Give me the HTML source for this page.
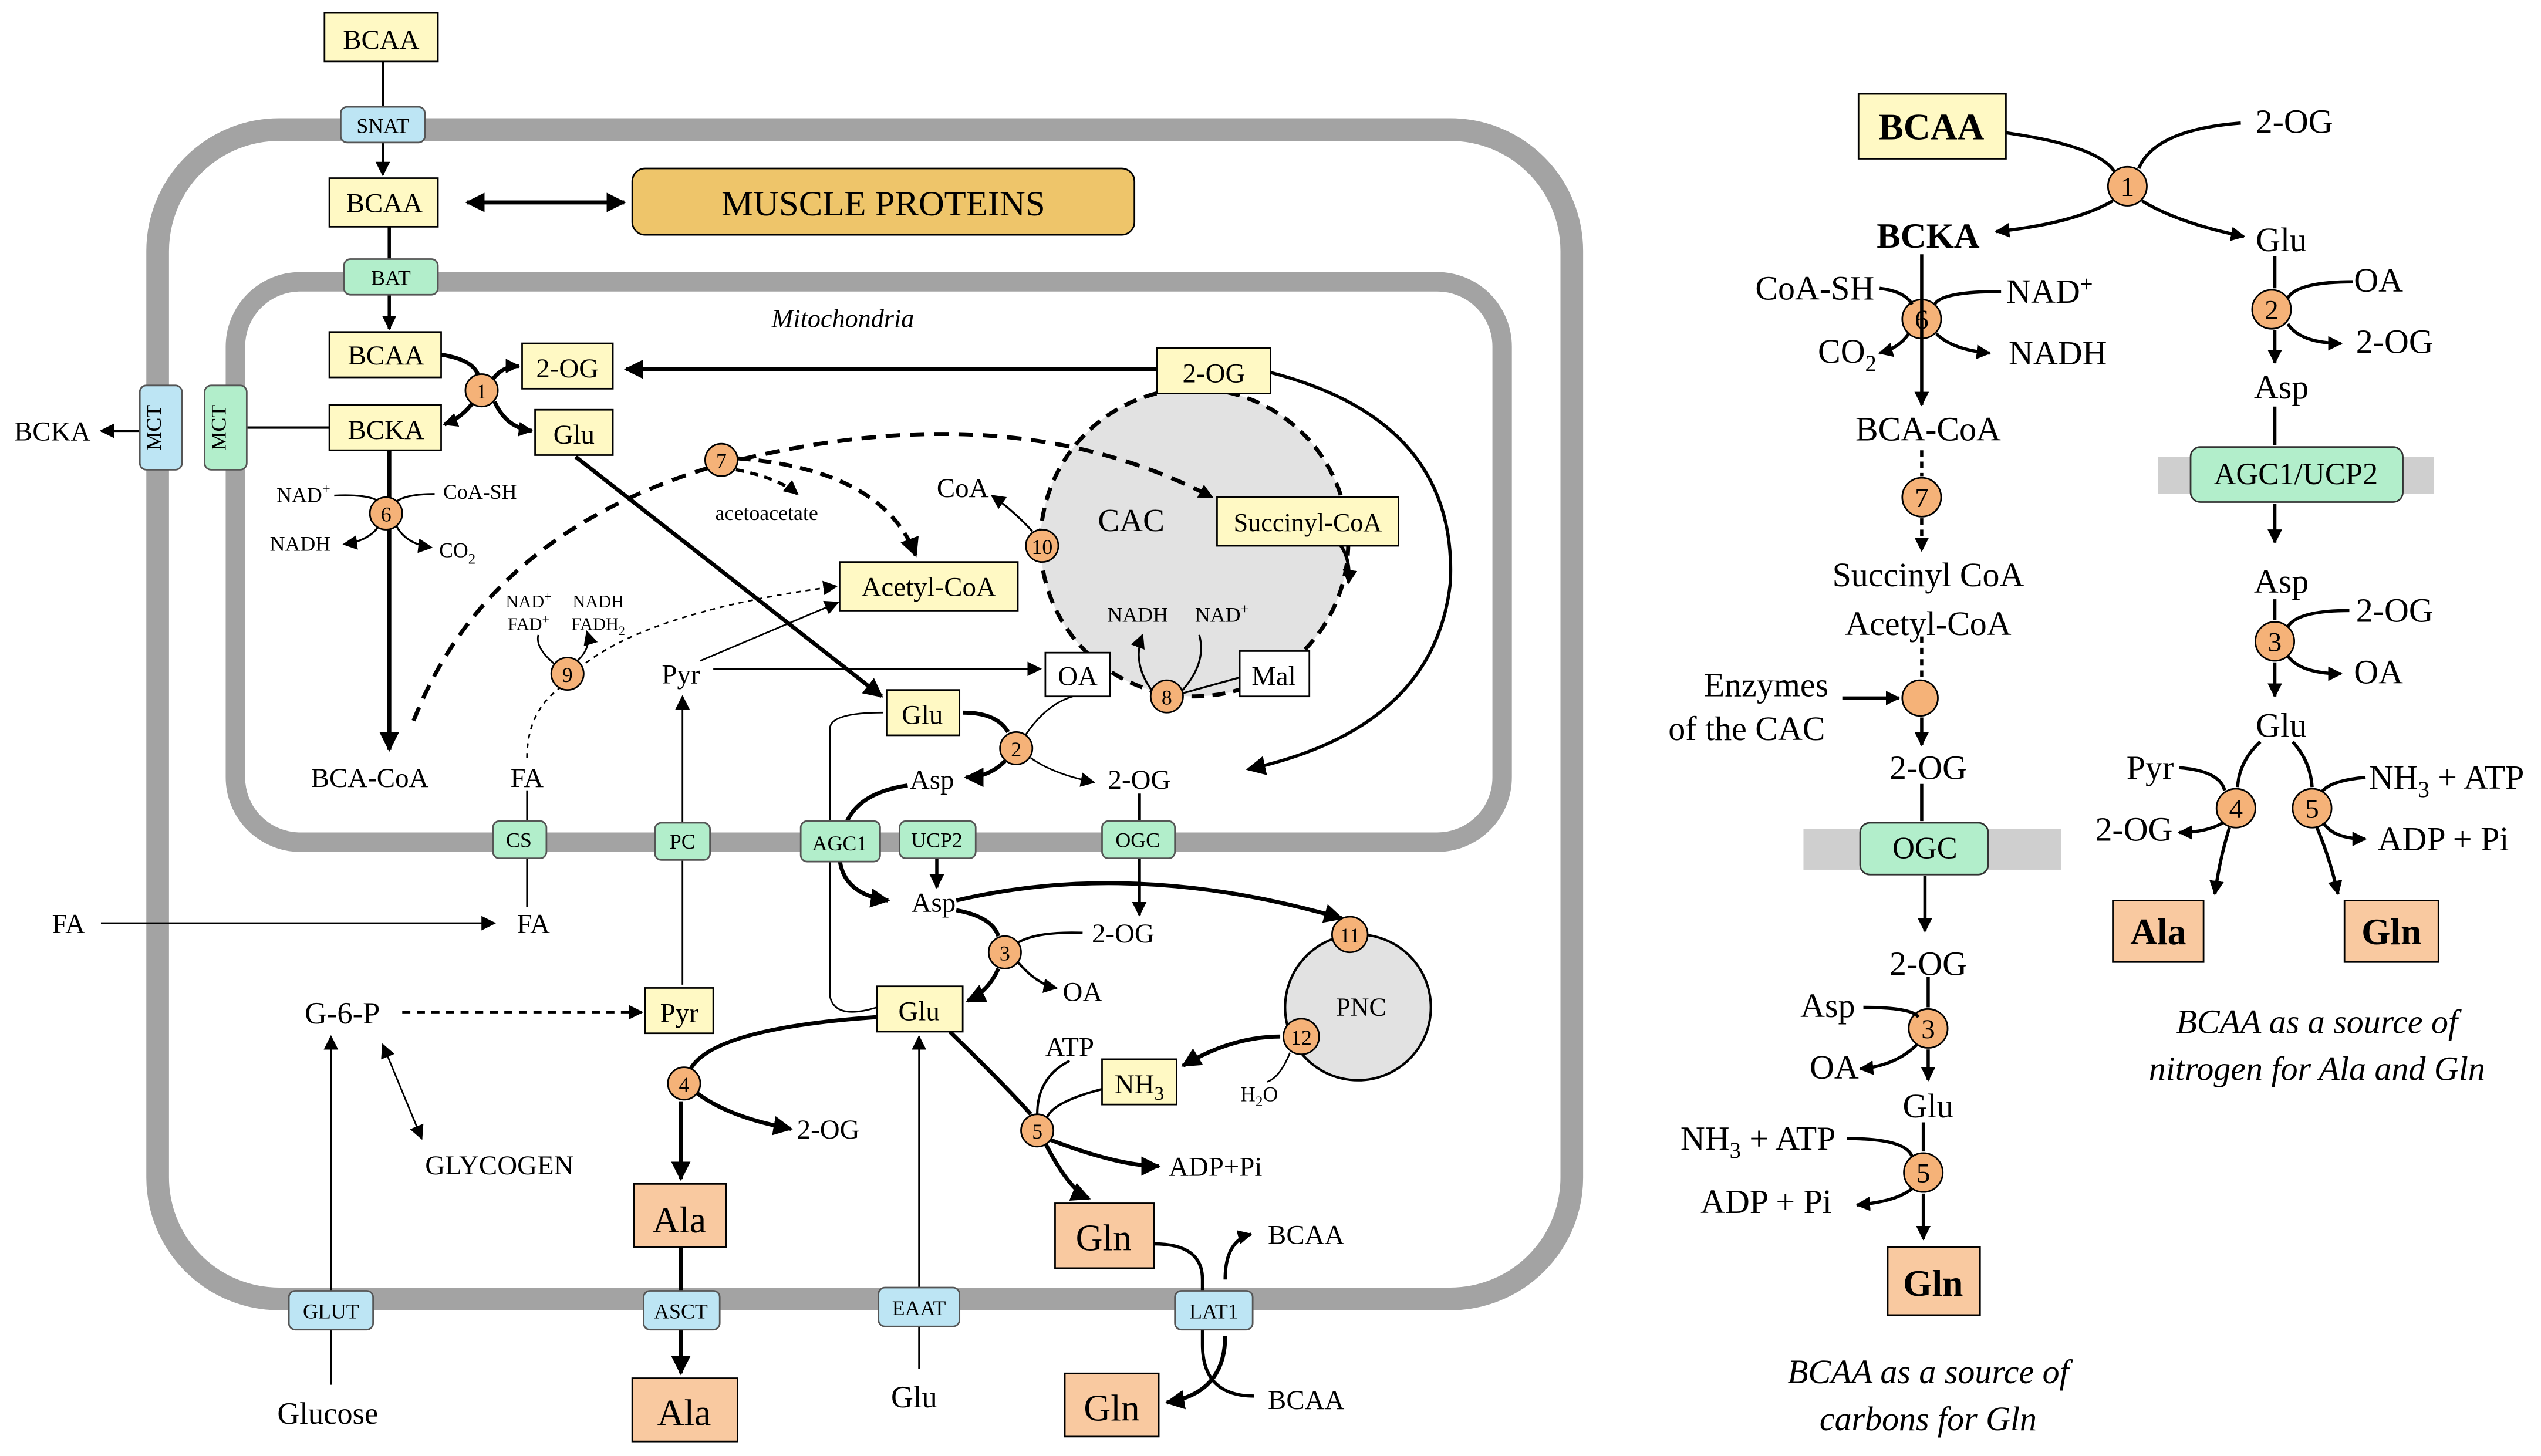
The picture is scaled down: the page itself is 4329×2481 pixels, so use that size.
<!DOCTYPE html>
<html><head><meta charset="utf-8"><style>html,body{margin:0;padding:0;background:#fff}svg{display:block}svg text{font-family:"Liberation Serif","Times New Roman",Tinos,serif}</style></head><body>
<svg width="4329" height="2481" viewBox="0 0 1568 899" xmlns="http://www.w3.org/2000/svg" style="font-family:'Liberation Serif','Times New Roman',serif">
<defs>
<marker id="a" viewBox="0 0 10 10" refX="9" refY="5" markerWidth="9" markerHeight="9" markerUnits="userSpaceOnUse" orient="auto-start-reverse"><path d="M0,0L10,5L0,10z" fill="#000"/></marker>
<marker id="s" viewBox="0 0 10 10" refX="9" refY="5" markerWidth="12" markerHeight="12" markerUnits="userSpaceOnUse" orient="auto-start-reverse"><path d="M0,0L10,5L0,10z" fill="#000"/></marker>
</defs>
<rect width="1568" height="899" fill="#fff"/>
<rect x="97" y="80" width="873" height="722" rx="75" fill="none" stroke="#a3a3a3" stroke-width="14"/>
<rect x="145" y="174" width="782" height="346" rx="40" fill="none" stroke="#a3a3a3" stroke-width="12"/>
<text x="520" y="202" font-size="16" font-style="italic" text-anchor="middle">Mitochondria</text>
<circle cx="737" cy="335" r="95" fill="#e2e2e2" stroke="#000" stroke-width="2.5" stroke-dasharray="8,5"/>
<text x="698" y="328" font-size="20" text-anchor="middle">CAC</text>
<circle cx="838" cy="622" r="45" fill="#e2e2e2" stroke="#000" stroke-width="1.5"/>
<text x="840" y="627" font-size="16" text-anchor="middle">PNC</text>
<g stroke="#000" fill="none">
<line x1="236" y1="38" x2="236" y2="108" stroke-width="1.5" marker-end="url(#a)"/>
<line x1="288" y1="125" x2="385" y2="125" stroke-width="2.5" marker-start="url(#s)" marker-end="url(#s)"/>
<line x1="240" y1="140" x2="240" y2="203" stroke-width="2" marker-end="url(#a)"/>
<path d="M272,219 Q292,222 295,232" stroke-width="2.5"/>
<path d="M292,248 Q285,258 274,262" stroke-width="2.5" marker-end="url(#a)"/>
<path d="M304,234 Q310,226 320,226" stroke-width="2.5" marker-end="url(#a)"/>
<path d="M305,248 Q312,264 328,266" stroke-width="2.5" marker-end="url(#a)"/>
<line x1="203" y1="264" x2="152" y2="264" stroke-width="1.5"/>
<line x1="86" y1="266" x2="62" y2="266" stroke-width="1.5" marker-end="url(#a)"/>
<line x1="240" y1="278" x2="240" y2="463" stroke-width="2.5" marker-end="url(#s)"/>
<path d="M206,306 Q228,305 234,310" stroke-width="1.2"/>
<path d="M268,305 Q250,305 244,310" stroke-width="1.2"/>
<path d="M234,324 Q228,334 212,336" stroke-width="1.2" marker-end="url(#a)"/>
<path d="M244,324 Q250,336 266,338" stroke-width="1.2" marker-end="url(#a)"/>
<path d="M255,445 Q300,330 440,288 Q620,240 748,307" stroke-width="2.5" stroke-dasharray="9,6" marker-end="url(#a)"/>
<path d="M454,290 Q480,295 492,305" stroke-width="2" stroke-dasharray="5,4" marker-end="url(#a)"/>
<path d="M455,283 Q545,290 565,343" stroke-width="2.5" stroke-dasharray="8,5" marker-end="url(#s)"/>
<line x1="714" y1="228" x2="386" y2="228" stroke-width="2.5" marker-end="url(#s)"/>
<path d="M784,230 Q900,260 895,360 Q885,450 770,475" stroke-width="2" marker-end="url(#s)"/>
<path d="M826,335 Q834,345 832,360" stroke-width="2" marker-end="url(#a)"/>
<path d="M637,328 Q625,315 612,306" stroke-width="1.2" marker-end="url(#a)"/>
<path d="M712,428 Q698,410 705,392" stroke-width="1.2" marker-end="url(#a)"/>
<path d="M728,428 Q745,410 740,392" stroke-width="1.2"/>
<line x1="766" y1="418" x2="730" y2="428" stroke-width="1.2"/>
<line x1="440" y1="413" x2="642" y2="413" stroke-width="1" marker-end="url(#a)"/>
<line x1="432" y1="408" x2="517" y2="372" stroke-width="1" marker-end="url(#a)"/>
<line x1="421" y1="608" x2="421" y2="430" stroke-width="1" marker-end="url(#a)"/>
<path d="M325,468 Q325,440 345,425 Q380,380 516,362" stroke-width="1" stroke-dasharray="3,3" marker-end="url(#a)"/>
<path d="M342,410 Q330,400 332,392" stroke-width="1"/>
<path d="M356,408 Q365,400 362,390" stroke-width="1" marker-end="url(#a)"/>
<line x1="355" y1="282" x2="544" y2="430" stroke-width="2.5" marker-end="url(#s)"/>
<path d="M594,440 Q615,440 622,452" stroke-width="2.5"/>
<path d="M620,470 Q610,480 596,480" stroke-width="2.5" marker-end="url(#s)"/>
<path d="M636,468 Q650,478 675,483" stroke-width="1" marker-end="url(#a)"/>
<path d="M632,455 Q645,435 662,430" stroke-width="1"/>
<path d="M560,485 Q525,490 520,515" stroke-width="2.5"/>
<path d="M518,530 Q520,552 548,556" stroke-width="2.5" marker-end="url(#s)"/>
<line x1="578" y1="528" x2="578" y2="548" stroke-width="2" marker-end="url(#a)"/>
<line x1="703" y1="490" x2="703" y2="565" stroke-width="2" marker-end="url(#a)"/>
<path d="M590,556 Q700,530 828,567" stroke-width="2.5" marker-end="url(#s)"/>
<path d="M590,562 Q612,566 616,578" stroke-width="2.5"/>
<path d="M616,598 Q610,612 597,618" stroke-width="2.5" marker-end="url(#s)"/>
<path d="M628,582 Q640,575 668,576" stroke-width="1.5"/>
<path d="M628,594 Q640,608 652,610" stroke-width="1.5" marker-end="url(#a)"/>
<path d="M790,640 Q760,640 730,658" stroke-width="2.5" marker-end="url(#s)"/>
<path d="M796,650 Q790,665 782,668" stroke-width="1"/>
<path d="M541,622 Q515,630 512,615 L512,450 Q512,440 545,440" stroke-width="1"/>
<line x1="567" y1="798" x2="567" y2="640" stroke-width="1" marker-end="url(#a)"/>
<line x1="567" y1="845" x2="567" y2="815" stroke-width="1"/>
<path d="M541,628 Q440,635 426,660" stroke-width="2.5"/>
<path d="M430,675 Q450,690 488,697" stroke-width="2.5" marker-end="url(#s)"/>
<line x1="420" y1="680" x2="420" y2="728" stroke-width="2.5" marker-end="url(#s)"/>
<line x1="420" y1="770" x2="420" y2="848" stroke-width="2.5" marker-end="url(#s)"/>
<path d="M586,637 Q620,670 636,688" stroke-width="2.5"/>
<path d="M645,706 Q660,735 672,740" stroke-width="2.5" marker-end="url(#s)"/>
<path d="M646,703 Q690,720 715,720" stroke-width="2.5" marker-end="url(#s)"/>
<path d="M660,655 Q640,665 640,688" stroke-width="1.5"/>
<path d="M682,672 Q650,680 646,690" stroke-width="1.5"/>
<line x1="248" y1="625" x2="396" y2="625" stroke-width="1.5" stroke-dasharray="5,4" marker-end="url(#a)"/>
<line x1="204" y1="798" x2="204" y2="640" stroke-width="1" marker-end="url(#a)"/>
<line x1="204" y1="815" x2="204" y2="855" stroke-width="1"/>
<line x1="236" y1="645" x2="260" y2="703" stroke-width="1" marker-start="url(#a)" marker-end="url(#a)"/>
<line x1="62" y1="570" x2="305" y2="570" stroke-width="1" marker-end="url(#a)"/>
<line x1="325" y1="560" x2="325" y2="488" stroke-width="1"/>
<path d="M712,768 Q742,768 742,790 L742,830 Q742,862 774,862" stroke-width="2"/>
<path d="M756,790 Q756,766 772,762" stroke-width="2" marker-end="url(#a)"/>
<path d="M756,825 Q756,860 720,866" stroke-width="2.5" marker-end="url(#s)"/>
</g>
<g stroke="#000" stroke-width="1" fill="#fff9c4" font-size="17">
<rect x="200" y="8" width="70" height="30"/><rect x="203" y="110" width="67" height="30"/>
<rect x="203" y="205" width="69" height="28"/><rect x="322" y="212" width="56" height="28"/>
<rect x="203" y="250" width="69" height="28"/><rect x="330" y="253" width="48" height="28"/>
<rect x="714" y="215" width="70" height="28"/><rect x="751" y="307" width="112" height="30"/>
<rect x="518" y="347" width="110" height="30"/><rect x="547" y="426" width="45" height="28"/>
<rect x="398" y="610" width="42" height="28"/><rect x="541" y="609" width="53" height="28"/>
<rect x="680" y="654" width="46" height="28"/>
<rect x="645" y="403" width="40" height="27" fill="#fff"/><rect x="765" y="402" width="43" height="28" fill="#fff"/>
<rect x="1147" y="58" width="91" height="40"/>
</g>
<rect x="390" y="104" width="310" height="41" rx="8" fill="#eec56a" stroke="#000"/>
<text x="545" y="133" font-size="22" text-anchor="middle">MUSCLE PROTEINS</text>
<g stroke="#000" fill="#f9c9a0">
<rect x="391" y="731" width="57" height="39"/><rect x="390" y="851" width="65" height="39"/>
<rect x="651" y="743" width="61" height="40"/><rect x="657" y="848" width="58" height="39"/>
<rect x="1165" y="770" width="57" height="42"/><rect x="1304" y="556" width="56" height="38"/><rect x="1447" y="556" width="58" height="38"/>
</g>
<g stroke="#555" stroke-width="1">
<g fill="#bde5f4"><rect x="210" y="66" width="52" height="22" rx="4"/><rect x="86" y="238" width="26" height="52" rx="4"/>
<rect x="178" y="797" width="52" height="24" rx="4"/><rect x="397" y="797" width="47" height="24" rx="4"/><rect x="542" y="795" width="50" height="24" rx="4"/><rect x="725" y="797" width="48" height="24" rx="4"/></g>
<g fill="#b2eecb"><rect x="212" y="160" width="58" height="22" rx="4"/><rect x="126" y="238" width="26" height="52" rx="4"/>
<rect x="304" y="507" width="33" height="23" rx="4"/><rect x="404" y="508" width="34" height="23" rx="4"/><rect x="494" y="507" width="49" height="25" rx="4"/><rect x="555" y="507" width="47" height="23" rx="4"/><rect x="680" y="507" width="45" height="23" rx="4"/></g>
</g>
<rect x="1113" y="512" width="159" height="25" fill="#cfcfcf"/>
<rect x="1332" y="282" width="170" height="23" fill="#cfcfcf"/>
<rect x="1148" y="508" width="79" height="32" rx="6" fill="#b2eecb" stroke="#333"/>
<rect x="1352" y="276" width="131" height="34" rx="6" fill="#b2eecb" stroke="#333"/>
<g font-size="13" text-anchor="middle">
<text x="236" y="82">SNAT</text><text x="241" y="176">BAT</text>
<text x="99" y="264" transform="rotate(-90 99 264)">MCT</text><text x="139" y="264" transform="rotate(-90 139 264)">MCT</text>
<text x="320" y="523">CS</text><text x="421" y="524">PC</text><text x="518" y="525">AGC1</text><text x="578" y="523">UCP2</text><text x="702" y="523">OGC</text>
<text x="204" y="814">GLUT</text><text x="420" y="814">ASCT</text><text x="567" y="812">EAAT</text><text x="749" y="814">LAT1</text>
</g>
<g fill="#f5b278" stroke="#000" stroke-width="1">
<circle cx="297" cy="241" r="10"/><circle cx="238" cy="317" r="10"/><circle cx="445" cy="284" r="10"/><circle cx="643" cy="337" r="10"/>
<circle cx="720" cy="430" r="10"/><circle cx="350" cy="416" r="10"/><circle cx="627" cy="462" r="10"/><circle cx="620" cy="588" r="10"/>
<circle cx="833" cy="577" r="11"/><circle cx="803" cy="640" r="11"/><circle cx="640" cy="698" r="10"/><circle cx="422" cy="669" r="10"/>
<circle cx="1313" cy="115" r="12"/><circle cx="1186" cy="197" r="12"/><circle cx="1186" cy="307" r="12"/><circle cx="1185" cy="431" r="11"/>
<circle cx="1190" cy="635" r="12"/><circle cx="1187" cy="724" r="12"/><circle cx="1402" cy="191" r="12"/><circle cx="1404" cy="396" r="12"/>
<circle cx="1380" cy="499" r="12"/><circle cx="1427" cy="499" r="12"/>
</g>
<g font-size="13" text-anchor="middle">
<text x="297" y="246">1</text><text x="238" y="322">6</text><text x="445" y="289">7</text><text x="643" y="342">10</text><text x="720" y="435">8</text>
<text x="350" y="421">9</text><text x="627" y="467">2</text><text x="620" y="593">3</text><text x="833" y="582">11</text><text x="803" y="645">12</text>
<text x="640" y="703">5</text><text x="422" y="674">4</text>
</g>
<g font-size="17" text-anchor="middle">
<text x="1313" y="121">1</text><text x="1186" y="203">6</text><text x="1186" y="313">7</text><text x="1190" y="641">3</text><text x="1187" y="730">5</text>
<text x="1402" y="197">2</text><text x="1404" y="402">3</text><text x="1380" y="505">4</text><text x="1427" y="505">5</text>
</g>
<g font-size="17" text-anchor="middle">
<text x="235" y="30">BCAA</text><text x="237" y="131">BCAA</text><text x="238" y="225">BCAA</text><text x="350" y="233">2-OG</text>
<text x="238" y="271">BCKA</text><text x="354" y="274">Glu</text><text x="749" y="236">2-OG</text><text x="807" y="328" font-size="16">Succinyl-CoA</text>
<text x="573" y="368">Acetyl-CoA</text><text x="569" y="447">Glu</text><text x="665" y="423">OA</text><text x="786" y="423">Mal</text>
<text x="419" y="631">Pyr</text><text x="567" y="630">Glu</text><text x="703" y="675">NH<tspan font-size="12" dy="4">3</tspan></text>
<text x="32" y="272">BCKA</text><text x="228" y="486">BCA-CoA</text><text x="325" y="486">FA</text><text x="329" y="576">FA</text><text x="42" y="576">FA</text>
<text x="594" y="307">CoA</text><text x="420" y="422">Pyr</text><text x="575" y="487">Asp</text><text x="703" y="487">2-OG</text>
<text x="576" y="563">Asp</text><text x="693" y="582">2-OG</text><text x="668" y="618">OA</text><text x="660" y="652">ATP</text>
<text x="211" y="632" font-size="19">G-6-P</text><text x="308" y="725">GLYCOGEN</text><text x="511" y="703">2-OG</text><text x="750" y="726">ADP+Pi</text>
<text x="202" y="879" font-size="19">Glucose</text><text x="564" y="869" font-size="19">Glu</text><text x="806" y="768">BCAA</text><text x="806" y="870">BCAA</text>
<text x="419" y="761" font-size="23">Ala</text><text x="422" y="880" font-size="23">Ala</text><text x="681" y="772" font-size="23">Gln</text><text x="686" y="877" font-size="23">Gln</text>
</g>
<g font-size="13" text-anchor="middle">
<text x="187" y="310">NAD<tspan font-size="9" dy="-5">+</tspan></text><text x="296" y="308">CoA-SH</text><text x="185" y="340">NADH</text><text x="282" y="344">CO<tspan font-size="9" dy="4">2</tspan></text>
<text x="473" y="321">acetoacetate</text><text x="702" y="384">NADH</text><text x="754" y="384">NAD<tspan font-size="9" dy="-5">+</tspan></text>
<text x="326" y="375" font-size="11">NAD<tspan font-size="8" dy="-4">+</tspan></text><text x="326" y="389" font-size="11">FAD<tspan font-size="8" dy="-4">+</tspan></text>
<text x="369" y="375" font-size="11">NADH</text><text x="369" y="389" font-size="11">FADH<tspan font-size="8" dy="3">2</tspan></text>
<text x="777" y="680">H<tspan font-size="9" dy="3">2</tspan><tspan dy="-3">O</tspan></text>
</g>
<g stroke="#000" fill="none" stroke-width="2">
<path d="M1238,82 Q1295,90 1305,106"/><path d="M1383,76 Q1330,80 1320,104"/>
<path d="M1304,124 Q1280,138 1232,143" marker-end="url(#a)"/><path d="M1322,124 Q1345,138 1385,146" marker-end="url(#a)"/>
<line x1="1186" y1="157" x2="1186" y2="250" marker-end="url(#a)"/>
<path d="M1160,178 Q1176,180 1180,188"/><path d="M1235,180 Q1198,180 1194,188"/>
<path d="M1178,206 Q1172,215 1160,218" marker-end="url(#a)"/><path d="M1195,206 Q1205,216 1228,218" marker-end="url(#a)"/>
<line x1="1186" y1="278" x2="1186" y2="294" stroke-dasharray="4,3"/><line x1="1186" y1="320" x2="1186" y2="340" stroke-dasharray="4,3" marker-end="url(#a)"/>
<line x1="1186" y1="393" x2="1186" y2="418" stroke-dasharray="4,3"/><line x1="1186" y1="443" x2="1186" y2="460" marker-end="url(#a)"/>
<line x1="1137" y1="431" x2="1172" y2="431" marker-end="url(#a)"/>
<line x1="1186" y1="484" x2="1186" y2="507"/><line x1="1188" y1="541" x2="1188" y2="575" marker-end="url(#a)"/>
<line x1="1190" y1="603" x2="1190" y2="622"/><line x1="1190" y1="648" x2="1190" y2="667" marker-end="url(#a)"/>
<path d="M1150,622 Q1180,622 1184,628"/><path d="M1183,645 Q1170,658 1148,660" marker-end="url(#a)"/>
<line x1="1187" y1="693" x2="1187" y2="711"/><line x1="1187" y1="737" x2="1187" y2="765" marker-end="url(#a)"/>
<path d="M1140,703 Q1176,703 1180,714"/><path d="M1180,734 Q1170,742 1146,744" marker-end="url(#a)"/>
<line x1="1404" y1="158" x2="1404" y2="178"/><line x1="1404" y1="204" x2="1404" y2="224" marker-end="url(#a)"/>
<path d="M1452,174 Q1418,174 1412,184"/><path d="M1412,200 Q1420,212 1445,212" marker-end="url(#a)"/>
<line x1="1404" y1="251" x2="1404" y2="275"/><line x1="1404" y1="311" x2="1404" y2="335" marker-end="url(#a)"/>
<line x1="1404" y1="370" x2="1404" y2="383"/><line x1="1404" y1="409" x2="1404" y2="430" marker-end="url(#a)"/>
<path d="M1450,377 Q1418,377 1412,387"/><path d="M1412,405 Q1420,416 1445,416" marker-end="url(#a)"/>
<path d="M1395,458 Q1382,470 1381,486"/><path d="M1415,458 Q1426,470 1427,486"/>
<path d="M1345,474 Q1370,476 1373,488"/><path d="M1372,508 Q1362,514 1345,514" marker-end="url(#a)"/>
<path d="M1460,480 Q1438,482 1433,489"/><path d="M1434,508 Q1440,518 1460,518" marker-end="url(#a)"/>
<path d="M1376,511 Q1370,530 1367,552" marker-end="url(#a)"/><path d="M1430,511 Q1438,530 1443,552" marker-end="url(#a)"/>
</g>
<g font-size="21" text-anchor="middle">
<text x="1192" y="86" font-weight="bold" font-size="23">BCAA</text><text x="1416" y="82">2-OG</text>
<text x="1190" y="153" font-weight="bold" font-size="22">BCKA</text><text x="1408" y="155">Glu</text>
<text x="1120" y="185">CoA-SH</text><text x="1265" y="187">NAD<tspan font-size="14" dy="-7">+</tspan></text>
<text x="1140" y="224">CO<tspan font-size="14" dy="5">2</tspan></text><text x="1270" y="225">NADH</text>
<text x="1190" y="272">BCA-CoA</text><text x="1190" y="362">Succinyl CoA</text><text x="1190" y="392">Acetyl-CoA</text>
<text x="1090" y="430">Enzymes</text><text x="1078" y="457">of the CAC</text><text x="1190" y="481">2-OG</text>
<text x="1188" y="530" font-size="19">OGC</text><text x="1190" y="602">2-OG</text><text x="1128" y="628">Asp</text><text x="1132" y="666">OA</text>
<text x="1190" y="690">Glu</text><text x="1085" y="710">NH<tspan font-size="14" dy="5">3</tspan><tspan dy="-5"> + ATP</tspan></text><text x="1090" y="749">ADP + Pi</text>
<text x="1193" y="800" font-weight="bold" font-size="23">Gln</text>
<text x="1190" y="854" font-style="italic">BCAA as a source of</text><text x="1190" y="883" font-style="italic">carbons for Gln</text>
<text x="1468" y="180">OA</text><text x="1478" y="218">2-OG</text><text x="1408" y="246">Asp</text>
<text x="1417" y="299" font-size="19">AGC1/UCP2</text><text x="1408" y="366">Asp</text><text x="1478" y="384">2-OG</text><text x="1468" y="422">OA</text>
<text x="1408" y="455">Glu</text><text x="1327" y="481">Pyr</text><text x="1317" y="519">2-OG</text>
<text x="1510" y="487">NH<tspan font-size="14" dy="5">3</tspan><tspan dy="-5"> + ATP</tspan></text><text x="1508" y="525">ADP + Pi</text>
<text x="1332" y="583" font-weight="bold" font-size="23">Ala</text><text x="1476" y="583" font-weight="bold" font-size="23">Gln</text>
<text x="1430" y="638" font-style="italic">BCAA as a source of</text><text x="1430" y="667" font-style="italic">nitrogen for Ala and Gln</text>
</g>
</svg>
</body></html>
